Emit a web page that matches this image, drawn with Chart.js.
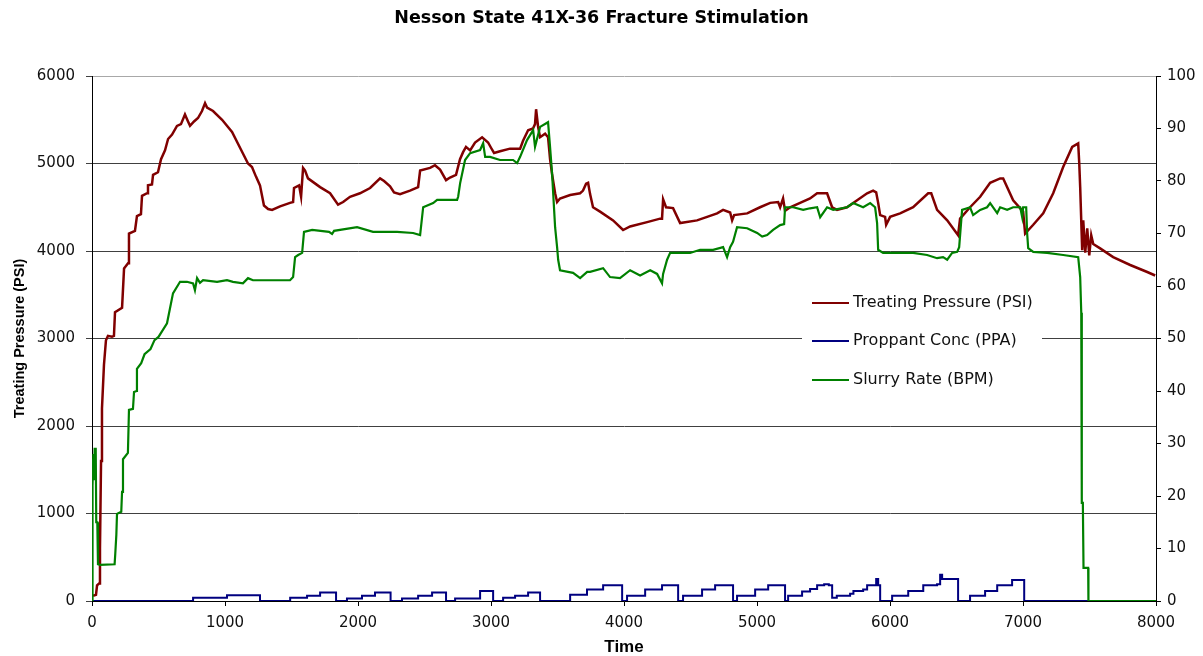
<!DOCTYPE html>
<html>
<head>
<meta charset="utf-8">
<title>Nesson State 41X-36 Fracture Stimulation</title>
<script src="https://cdn.jsdelivr.net/npm/chart.js@4/dist/chart.umd.min.js"></script>
<style>
  body { margin: 0; background: #fff; }
  canvas { display: block; }
</style>
</head>
<body>
<canvas id="fracChart" width="1203" height="656"></canvas>
<script>
//----------------------
// Data: [time, value]
//----------------------

const seriesNames = ['Treating Pressure (PSI)', 'Proppant Conc (PPA)', 'Slurry Rate (BPM)'];
const xTicks = [0, 1000, 2000, 3000, 4000, 5000, 6000, 7000, 8000];

// treating pressure, PSI (left axis)
const pressure = [
  [8,60],[30,70],[38,180],[53,200],[60,600],[68,1600],[75,2200],[90,2700],[105,2980],[120,3030],
  [150,3020],[165,3030],[173,3300],[226,3350],[241,3800],[271,3860],[278,4200],[323,4230],[338,4400],[368,4420],
  [376,4630],[414,4660],[421,4750],[451,4760],[459,4870],[496,4900],[519,5050],[549,5150],[572,5280],[602,5330],
  [639,5430],[669,5450],[699,5560],[722,5480],[737,5430],[767,5480],[797,5520],[827,5600],[850,5690],[865,5640],
  [910,5600],[978,5500],[1053,5360],[1113,5180],[1173,5000],[1203,4960],[1233,4850],[1263,4750],[1293,4520],[1324,4480],
  [1354,4470],[1414,4510],[1489,4550],[1512,4560],[1519,4720],[1557,4750],[1572,4620],[1587,4950],[1602,4920],[1624,4830],
  [1715,4730],[1790,4660],[1850,4530],[1888,4560],[1940,4620],[2015,4660],[2091,4720],[2166,4830],[2196,4800],[2241,4740],
  [2271,4670],[2316,4650],[2391,4690],[2452,4730],[2467,4920],[2542,4950],[2579,4980],[2617,4930],[2662,4810],[2692,4840],
  [2737,4870],[2767,5050],[2790,5130],[2812,5190],[2843,5150],[2880,5240],[2933,5300],[2978,5240],[3000,5180],[3023,5120],
  [3068,5140],[3143,5170],[3219,5170],[3241,5260],[3279,5380],[3316,5400],[3331,5450],[3339,5620],[3354,5420],[3369,5300],
  [3407,5340],[3429,5300],[3444,5050],[3459,4880],[3482,4660],[3497,4560],[3519,4600],[3595,4640],[3670,4660],[3692,4690],
  [3715,4770],[3730,4780],[3745,4650],[3767,4500],[3820,4450],[3918,4350],[3993,4240],[4046,4280],[4174,4330],[4271,4370],
  [4286,4370],[4294,4590],[4316,4500],[4369,4490],[4422,4320],[4549,4350],[4625,4390],[4700,4430],[4745,4470],[4798,4440],
  [4813,4350],[4828,4410],[4926,4430],[5023,4500],[5099,4550],[5159,4560],[5174,4500],[5196,4600],[5211,4460],[5249,4500],
  [5324,4550],[5399,4600],[5452,4660],[5527,4660],[5565,4500],[5602,4470],[5677,4500],[5753,4580],[5828,4660],[5873,4690],
  [5896,4670],[5911,4550],[5926,4410],[5963,4390],[5971,4300],[6001,4390],[6076,4430],[6174,4500],[6287,4660],[6310,4660],
  [6354,4470],[6430,4350],[6512,4180],[6527,4370],[6602,4500],[6678,4620],[6753,4780],[6828,4830],[6851,4830],[6926,4580],
  [7001,4450],[7016,4200],[7077,4300],[7152,4430],[7227,4660],[7302,4960],[7370,5190],[7415,5230],[7423,5000],[7430,4730],
  [7445,4010],[7453,4350],[7468,3980],[7483,4260],[7498,3950],[7513,4180],[7528,4080],[7580,4030],[7678,3930],[7806,3840],
  [7934,3760],[7994,3720]
];

// proppant concentration, PPA (right axis) - each value holds until the next time
const proppant = [
  [0,0],[760,0.6],[1015,1.1],[1263,0],[1490,0.6],[1617,1.0],[1715,1.6],[1835,0],[1917,0.5],[2030,1.0],
  [2128,1.6],[2245,0],[2331,0.5],[2452,1.0],[2557,1.6],[2662,0],[2730,0.5],[2918,1.9],[3016,0],[3091,0.6],
  [3181,1.0],[3279,1.6],[3369,0],[3595,1.2],[3722,2.2],[3843,3.0],[3986,0],[4023,1.0],[4159,2.2],[4286,3.0],
  [4407,0],[4444,1.0],[4587,2.2],[4685,3.0],[4820,0],[4850,1.0],[4986,2.2],[5084,3.0],[5211,0],[5234,1.0],
  [5339,1.8],[5399,2.3],[5452,3.0],[5505,3.2],[5540,3.0],[5565,0.6],[5600,1.0],[5700,1.4],[5725,1.9],[5798,2.2],
  [5828,3.0],[5896,4.2],[5911,3.0],[5926,0],[6016,1.0],[6137,1.9],[6250,3.0],[6354,3.2],[6377,5.0],[6392,4.2],
  [6512,0],[6602,1.0],[6715,1.9],[6806,3.0],[6918,4.0],[7009,0],[7490,0]
];

// slurry rate, BPM (right axis)
const slurry = [
  [0,0],[2,27],[6,22],[10,28],[15,23],[20,29],[28,29],[32,15],[40,15],[45,7],
  [60,6.9],[170,7.0],[175,9],[183,12.6],[188,16.6],[220,17],[226,20.8],[233,27],[270,28.2],[278,36.4],
  [308,36.6],[316,39.8],[335,40],[338,44.2],[370,45.3],[395,47],[440,48],[470,49.7],[500,50.3],[564,52.9],
  [609,58.6],[662,60.8],[714,60.8],[760,60.5],[774,59.2],[790,61.5],[812,60.6],[835,61.1],[940,60.8],[1015,61.1],
  [1060,60.8],[1135,60.5],[1173,61.5],[1210,61.1],[1316,61.1],[1489,61.1],[1512,61.7],[1527,65.5],[1550,65.9],[1580,66.3],
  [1594,70.3],[1655,70.7],[1782,70.3],[1805,69.9],[1820,70.5],[1993,71.2],[2113,70.3],[2294,70.3],[2414,70.1],[2467,69.7],
  [2490,75],[2565,75.8],[2595,76.4],[2745,76.4],[2753,77],[2768,79.6],[2805,84],[2843,85.3],[2918,85.9],[2941,87.2],
  [2956,84.6],[2993,84.6],[3068,84],[3166,84],[3196,83.4],[3219,84.6],[3271,87.8],[3317,89.7],[3331,86.5],[3369,90.3],
  [3429,91.2],[3444,86.5],[3459,81.5],[3482,71.2],[3497,67.4],[3505,65],[3519,63],[3617,62.5],[3670,61.5],[3723,62.7],
  [3745,62.7],[3843,63.4],[3895,61.7],[3970,61.5],[4046,63],[4121,62],[4197,63],[4249,62.3],[4286,60.5],[4294,62.3],
  [4324,65],[4347,66.3],[4422,66.3],[4497,66.3],[4572,66.9],[4670,66.9],[4745,67.4],[4775,65.5],[4798,67.4],[4820,68.4],
  [4850,71.2],[4926,71],[5001,70.1],[5039,69.4],[5076,69.7],[5121,70.7],[5174,71.6],[5204,71.8],[5211,75],[5272,75],
  [5347,74.5],[5399,74.8],[5452,75],[5475,73.1],[5527,75],[5573,74.5],[5677,75],[5723,75.8],[5798,75],[5851,75.8],
  [5888,75],[5903,72],[5911,66.9],[5948,66.3],[6077,66.3],[6174,66.3],[6279,65.9],[6354,65.3],[6399,65.5],[6430,65],
  [6467,66.3],[6505,66.5],[6520,67.4],[6542,74.5],[6602,75],[6625,73.5],[6678,74.5],[6730,75],[6753,75.8],[6806,73.9],
  [6828,75],[6881,74.5],[6926,75],[6979,75],[6994,73.1],[7001,75],[7024,75],[7031,70.1],[7039,67.2],[7077,66.5],
  [7182,66.3],[7302,65.9],[7415,65.5],[7430,61.7],[7438,54.9],[7442,18.7],[7450,18.7],[7455,6.3],[7490,6.3],[7492,0],
  [8000,0]
];

const seriesColors = ['#800000', '#000080', '#008000'];

function toPoints(pairs) {
  return pairs.map(p => ({ x: p[0], y: p[1] }));
}

const plainNumber = v => String(v); // no thousands separator, like the original

//----------------------
// Legend drawn inside the plot, on a white box
//----------------------

const insideLegend = {
  id: 'insideLegend',
  beforeDatasetsDraw(chart) {
    const ctx = chart.ctx;
    ctx.save();
    ctx.fillStyle = '#fff';
    ctx.fillRect(802, 284, 240, 114);
    const rows = [303, 341, 380];
    ctx.font = '16px "DejaVu Sans"';
    ctx.textBaseline = 'middle';
    seriesNames.forEach((name, i) => {
      ctx.strokeStyle = seriesColors[i];
      ctx.lineWidth = 2;
      ctx.beginPath();
      ctx.moveTo(812, rows[i]);
      ctx.lineTo(849, rows[i]);
      ctx.stroke();
      ctx.fillStyle = '#111';
      ctx.fillText(name, 853, rows[i]);
    });
    ctx.restore();
  }
};

const ctx = document.getElementById('fracChart').getContext('2d');
const chart = new Chart(ctx, {
  type: 'line',
  data: {
    datasets: [
      {
        label: seriesNames[2],
        data: toPoints(slurry),
        yAxisID: 'y1',
        borderColor: seriesColors[2],
        borderWidth: 2.2,
        order: 1
      },
      {
        label: seriesNames[1],
        data: toPoints(proppant),
        yAxisID: 'y1',
        borderColor: seriesColors[1],
        borderWidth: 2,
        stepped: true,
        order: 2
      },
      {
        label: seriesNames[0],
        data: toPoints(pressure),
        yAxisID: 'y',
        borderColor: seriesColors[0],
        borderWidth: 2.5,
        order: 3
      }
    ]
  },
  options: {
    responsive: false,
    animation: false,
    layout: { padding: 0 },
    elements: { point: { radius: 0 }, line: { tension: 0 } },
    plugins: {
      legend: { display: false },
      tooltip: { enabled: false },
      title: {
        display: true,
        text: 'Nesson State 41X-36 Fracture Stimulation',
        color: '#000',
        font: { family: '"DejaVu Sans"', size: 17.5, weight: 'bold', lineHeight: 1.2 },
        padding: { top: 8, bottom: 47 }
      }
    },
    scales: {
      x: {
        type: 'linear',
        min: 0,
        max: 8000,
        afterFit: s => { s.height = 55; },
        afterBuildTicks: s => { s.ticks = xTicks.map(v => ({ value: v })); },
        ticks: { color: '#111', padding: 8, maxRotation: 0, callback: plainNumber, font: { family: '"DejaVu Sans"', size: 15 } },
        grid: { drawOnChartArea: false, color: '#000', tickLength: 5 },
        border: { color: '#000', width: 1 },
        title: {
          display: true,
          text: 'Time',
          color: '#000',
          font: { family: '"Liberation Sans"', size: 17, weight: 'bold', lineHeight: 1.06 },
          padding: { top: 0, bottom: 0 }
        }
      },
      y: {
        position: 'left',
        min: 0,
        max: 6000,
        afterFit: s => { s.width = 92; },
        ticks: { stepSize: 1000, color: '#111', padding: 11, callback: plainNumber, font: { family: '"DejaVu Sans"', size: 15 } },
        grid: {
          color: c => (c.tick && c.tick.value === 6000 ? '#a8a8a8' : '#404040'),
          tickColor: '#404040',
          tickLength: 6,
          lineWidth: 1
        },
        border: { color: '#000', width: 1 },
        title: {
          display: true,
          text: 'Treating Pressure (PSI)',
          color: '#000',
          font: { family: '"Liberation Sans"', size: 14.5, weight: 'bold', lineHeight: 1.2 },
          padding: { top: 11, bottom: 0 }
        }
      },
      y1: {
        position: 'right',
        min: 0,
        max: 100,
        afterFit: s => { s.width = 47; },
        ticks: { stepSize: 10, color: '#111', padding: 6, callback: plainNumber, font: { family: '"DejaVu Sans"', size: 15 } },
        grid: { drawOnChartArea: false, color: '#000', tickLength: 5 },
        border: { color: '#000', width: 1 }
      }
    }
  },
  plugins: [insideLegend]
});
</script>
</body>
</html>
